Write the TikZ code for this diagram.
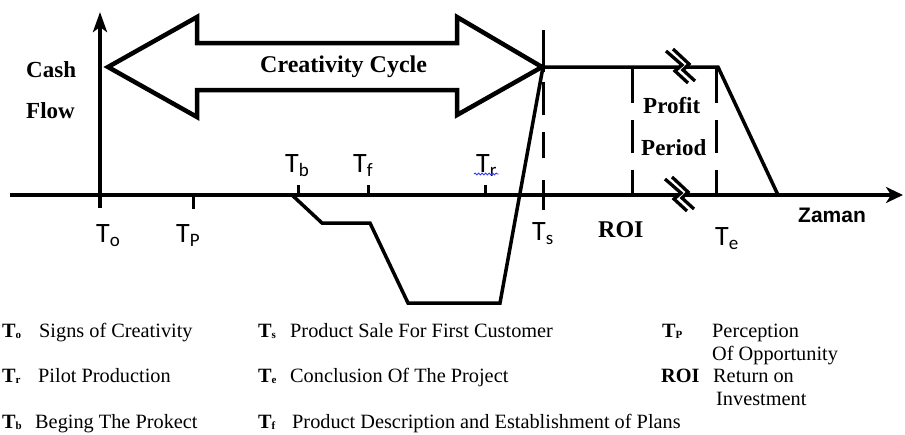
\documentclass[tikz,border=0pt]{standalone}
\usepackage{fontspec}
\setmainfont{Liberation Serif}
\newfontfamily\calibf{Carlito}
\newfontfamily\arialf{Liberation Sans}
\usetikzlibrary{arrows.meta,decorations.pathmorphing}

\newcommand\fs[1]{\fontsize{#1}{#1}\selectfont}
% time mark on the axis: T with a lowered index
\newcommand\axT[1]{T\raisebox{-4pt}{\fs{19}#1}}
% bold T with a small index, used in the key
\newcommand\lgT[1]{\textbf{T\raisebox{-1pt}{\fs{11}#1}}}

\begin{document}
\begin{tikzpicture}[x=1pt,y=-1pt,
  axis/.style={line width=4pt},
  curve/.style={line width=3.5pt,line join=miter},
  tickmark/.style={line width=3pt},
  dashseg/.style={line width=3pt},
  bigarrow/.style={line width=4.5pt,line join=miter,fill=white},
  zig/.style={line width=3.3pt,line join=miter},
  lbl/.style={inner sep=0pt,anchor=base west},
  boldlbl/.style={lbl,font=\fs{23}\bfseries},
  tlbl/.style={lbl,font=\fs{28}\calibf},
  keytxt/.style={lbl,font=\fs{20.3}}]

\useasboundingbox (0,0) rectangle (905,434);

% ---- key points ----
\coordinate (xs) at (10,195);
\coordinate (xe) at (903,195);
\coordinate (ys) at (100,208);
\coordinate (ye) at (100,12);

% ---- creativity cycle double arrow ----
\draw[bigarrow] (108,67) coordinate (cl) -- (197,17) -- (197,43) -- (457,43) -- (457,17)
  -- (542,67) coordinate (cr) -- (457,115) -- (457,90) -- (197,90) -- (197,117) -- cycle;
\node[boldlbl,font=\fs{24}\bfseries] (cyc) at (260,72) {Creativity Cycle};

% ---- axes ----
\draw[axis,-{Stealth[length=17pt,width=16pt,inset=5pt]}] (xs) -- (xe);
\draw[axis,-{Stealth[length=20pt,width=14pt,inset=5pt]}] (ys) -- (ye);

% ---- ticks ----
\foreach \x/\n in {298/tb,368/tf,485/tr}
  \draw[tickmark] (\x,195) coordinate (\n0) -- (\x,185) coordinate (\n1);
\draw[tickmark] (193,195) coordinate (tp0) -- (193,209) coordinate (tp1);

% ---- dashed verticals ----
\draw[dashseg] (543,30) coordinate (ts0) -- (543,72) coordinate (ts1);
\foreach \a/\b in {82/115,132/158,180/210}
  \draw[dashseg] (543,\a) -- (543,\b);
\foreach \x in {632,716}
  \foreach \a/\b in {67/103,120/153,170/195}
    \draw[dashseg] (\x,\a) -- (\x,\b);

% ---- cash flow curve ----
\coordinate (c0) at (292,195);
\coordinate (c1) at (322,223);
\coordinate (c2) at (370,223);
\coordinate (c3) at (408,303);
\coordinate (c4) at (500,303);
\coordinate (c5) at (543,67);
\coordinate (c6) at (718,67);
\coordinate (c7) at (778,195);
\draw[curve] (c0) -- (c1) -- (c2) -- (c3) -- (c4) -- (c5) -- (c6) -- (c7);

% ---- break marks on the profit line and on the axis ----
\foreach \cx/\cy in {683/67,682/195}{
  \fill[white] (\cx-17,\cy-16) -- (\cx-1,\cy-2) -- (\cx-8,\cy+4) -- (\cx+5,\cy+16)
    -- (\cx+12,\cy+14) -- (\cx,\cy+3) -- (\cx+6,\cy-3) -- (\cx-10,\cy-18) -- cycle;
  \draw[zig] (\cx-17,\cy-16) -- (\cx-1,\cy-2) -- (\cx-8,\cy+4) -- (\cx+5,\cy+16);
  \draw[zig] (\cx-10,\cy-18) -- (\cx+6,\cy-3) -- (\cx,\cy+3) -- (\cx+12,\cy+14);
}

% ---- labels in the chart ----
\node[boldlbl] (cash) at (26,77) {Cash};
\node[boldlbl] (flow) at (26,118) {Flow};
\node[boldlbl] (profit) at (643,113) {Profit};
\node[boldlbl] (period) at (641,155) {Period};
\node[boldlbl,font=\fs{24}\bfseries] (roi) at (598,237) {ROI};
\node[lbl,font=\fs{21}\arialf\bfseries] (zaman) at (798,222) {Zaman};

\node[tlbl] (To) at (96,242) {\axT{o}};
\node[tlbl] (Tp) at (176,242) {\axT{P}};
\node[tlbl] (Tb) at (285,172) {\axT{b}};
\node[tlbl] (Tf) at (353,172) {\axT{f}};
\node[tlbl] (Tr) at (476,172) {\axT{r}};
\node[tlbl] (Ts) at (532,240) {\axT{s}};
\node[tlbl] (Te) at (715,245) {\axT{e}};
\draw[blue!80!white,line width=0.9pt,decorate,
  decoration={snake,amplitude=0.9pt,segment length=3.5pt}]
  ([xshift=-2pt,yshift=-2pt]Tr.base west) -- ([xshift=2pt,yshift=-2pt]Tr.base east);

% ---- key ----
\node[keytxt] (k1) at (2,337) {\lgT{o}};
\node[keytxt] (k1t) at (39,337) {Signs of Creativity};
\node[keytxt] (k2) at (258,337) {\lgT{s}};
\node[keytxt] (k2t) at (290,337) {Product Sale For First Customer};
\node[keytxt] (k3) at (662,337) {\lgT{P}};
\node[keytxt] (k3t) at (712,337) {Perception};
\node[keytxt] (k3u) at (712,360) {Of Opportunity};

\node[keytxt] (k4) at (2,382) {\lgT{r}};
\node[keytxt] (k4t) at (38,382) {Pilot Production};
\node[keytxt] (k5) at (258,382) {\lgT{e}};
\node[keytxt] (k5t) at (290,382) {Conclusion Of The Project};
\node[keytxt] (k6) at (661,382) {\textbf{ROI}};
\node[keytxt] (k6t) at (713,382) {Return on};
\node[keytxt] (k6u) at (716,405) {Investment};

\node[keytxt] (k7) at (2,428) {\lgT{b}};
\node[keytxt] (k7t) at (35,428) {Beging The Prokect};
\node[keytxt] (k8) at (258,428) {\lgT{f}};
\node[keytxt] (k8t) at (292,428) {Product Description and Establishment of Plans};
\end{tikzpicture}
\end{document}
